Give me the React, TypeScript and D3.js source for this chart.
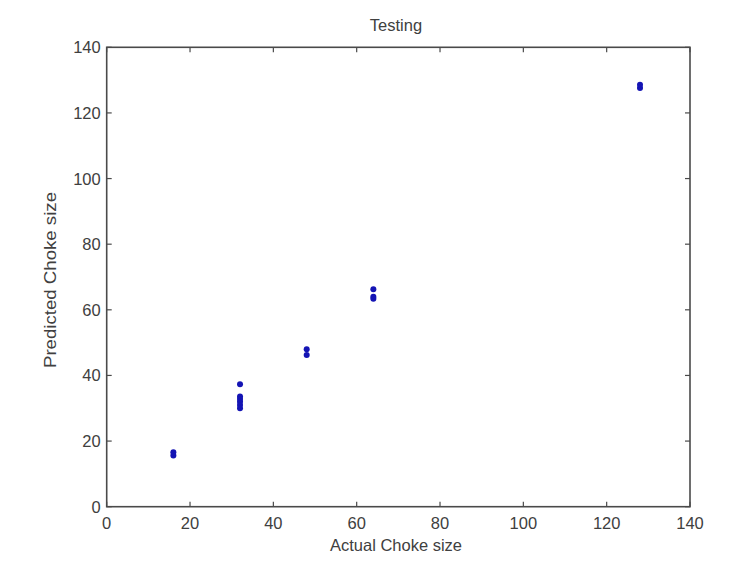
import React from "react";
import * as d3 from "d3";

const actual = [16, 16, 32, 32, 32, 32, 32, 32, 48, 48, 64, 64, 64, 128, 128];
const predicted = [15.6, 16.6, 37.3, 33.6, 32.8, 32.0, 31.0, 30.0, 48.0, 46.2, 66.3, 64.0, 63.4, 127.6, 128.6];
const xTicks = [0, 20, 40, 60, 80, 100, 120, 140];
const yTicks = [0, 20, 40, 60, 80, 100, 120, 140];
const title = "Testing";
const xLabel = "Actual Choke size";
const yLabel = "Predicted Choke size";

const W = 735, H = 561;
const left = 106.7, right = 690, top = 47.3, bottom = 506.7;

export default function App() {
  const x = d3.scaleLinear().domain([0, 140]).range([left, right]);
  const y = d3.scaleLinear().domain([0, 140]).range([bottom, top]);
  const axisColor = "#4a4a4a";
  const textColor = "#404040";
  const font = "Arial, 'Liberation Sans', sans-serif";
  const tl = 5;
  return (
    <div style={{ position: "absolute", left: 0, top: 0 }}>
      <svg width={W} height={H} style={{ display: "block", background: "#fff" }}>
        <rect x={left} y={top} width={right - left} height={bottom - top} fill="#fff" stroke={axisColor} strokeWidth={1.6} />
        {xTicks.map((t) => (
          <g key={"x" + t}>
            <line x1={x(t)} x2={x(t)} y1={bottom} y2={bottom - tl} stroke={axisColor} strokeWidth={1.2} />
            <line x1={x(t)} x2={x(t)} y1={top} y2={top + tl} stroke={axisColor} strokeWidth={1.2} />
            <text x={x(t)} y={bottom + 22} textAnchor="middle" fontFamily={font} fontSize={16.5} fill={textColor}>{t}</text>
          </g>
        ))}
        {yTicks.map((t) => (
          <g key={"y" + t}>
            <line x1={left} x2={left + tl} y1={y(t)} y2={y(t)} stroke={axisColor} strokeWidth={1.2} />
            <line x1={right} x2={right - tl} y1={y(t)} y2={y(t)} stroke={axisColor} strokeWidth={1.2} />
            <text x={left - 6} y={y(t) + 6} textAnchor="end" fontFamily={font} fontSize={16.5} fill={textColor}>{t}</text>
          </g>
        ))}
        {actual.map((a, i) => (
          <circle key={i} cx={x(a)} cy={y(predicted[i])} r={3} fill="#1414b4" />
        ))}
        <text x={396} y={31} textAnchor="middle" fontFamily={font} fontSize={16.5} fill={textColor}>{title}</text>
        <text x={396} y={551} textAnchor="middle" fontFamily={font} fontSize={16.5} fill={textColor}>{xLabel}</text>
        <text transform={`translate(56,280) rotate(-90)`} textAnchor="middle" fontFamily={font} fontSize={16.5} fill={textColor} textLength={176} lengthAdjust="spacingAndGlyphs">{yLabel}</text>
      </svg>
    </div>
  );
}
